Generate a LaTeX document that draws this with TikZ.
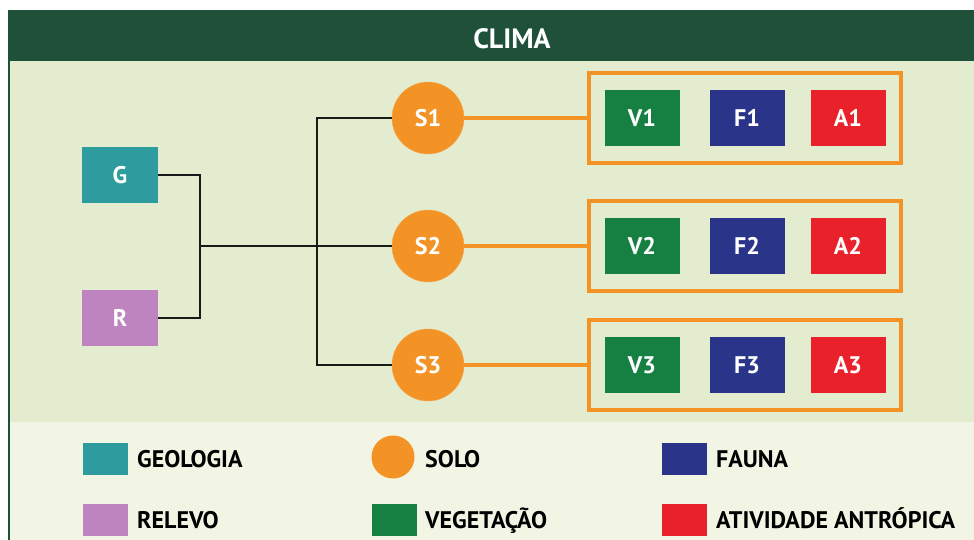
\documentclass[tikz,border=0pt]{standalone}
\usepackage{fontspec}
\setmainfont{PT Sans}
\usetikzlibrary{fit}
\definecolor{headgreen}{RGB}{30,80,58}
\definecolor{bodygreen}{RGB}{228,236,208}
\definecolor{legendbg}{RGB}{242,245,227}
\definecolor{geoteal}{RGB}{46,156,158}
\definecolor{relpurple}{RGB}{190,132,192}
\definecolor{soloorange}{RGB}{244,147,37}
\definecolor{vegreen}{RGB}{22,128,66}
\definecolor{faunablue}{RGB}{42,53,137}
\definecolor{antred}{RGB}{233,33,43}
\begin{document}
\begin{tikzpicture}[x=1pt,y=-1pt,
    font=\fontsize{24}{26}\selectfont,
    cell/.style={rectangle,minimum width=75pt,minimum height=56pt,inner sep=0pt,text=white,font=\fontsize{24}{26}\selectfont\bfseries},
    solo/.style={circle,fill=soloorange,draw=soloorange!80!white,minimum size=72pt,inner sep=0pt,text=white,font=\fontsize{24}{26}\selectfont\bfseries},
    group/.style={draw=soloorange,line width=4pt,inner xsep=15pt,inner ysep=17pt},
    link/.style={line width=1.8pt,black!90},
    olink/.style={line width=4pt,soloorange},
    swatch/.style={rectangle,minimum width=45pt,minimum height=32pt,inner sep=0pt},
    legtext/.style={anchor=base west,inner sep=0pt,font=\fontsize{24}{26}\selectfont\bfseries}]
    \useasboundingbox (0,0) rectangle (974,540);
    \fill[white] (0,0) rectangle (974,540);
    \fill[bodygreen] (9,61) rectangle (980,422);
    \fill[legendbg] (9,422) rectangle (980,545);
    \draw[headgreen,line width=1.5pt] (9,545) -- (9,11) -- (980,11);
    \fill[headgreen] (8,11) rectangle (980,61);
    \node[text=white,font=\fontsize{28}{30}\selectfont\bfseries] (clima) at (512,39) {CLIMA};

    \node[cell,fill=geoteal,minimum width=76pt] (G) at (120,175) {G};
    \node[cell,fill=relpurple,minimum width=76pt] (R) at (120,318) {R};
    \coordinate (hub) at (200,246);
    \coordinate (trunk) at (317,246);

    \foreach \i/\y in {1/118,2/246,3/365}{
        \node[solo] (S\i) at (428,\y) {S\i};
        \node[cell,fill=vegreen] (V\i) at (642,\y) {V\i};
        \node[cell,fill=faunablue] (F\i) at (747,\y) {F\i};
        \node[cell,fill=antred] (A\i) at (848,\y) {A\i};
        \node[group,fit=(V\i)(A\i)] (grp\i) {};
        \draw[olink] (S\i.east) -- (grp\i.west);
    }

    \draw[link] (G.east) -| (hub) |- (R.east);
    \draw[link] (hub) -- (S2.west);
    \draw[link] (S1.west) -| (trunk) |- (S3.west);

    \node[swatch,fill=geoteal] (lgeo) at (105,459) {};
    \node[legtext] at (137,467) {GEOLOGIA};
    \node[swatch,fill=relpurple] (lrel) at (105,520) {};
    \node[legtext] at (137,528) {RELEVO};
    \node[circle,fill=soloorange,minimum size=43pt,inner sep=0pt] (lsolo) at (393,457) {};
    \node[legtext] at (425,467) {SOLO};
    \node[swatch,fill=vegreen] (lveg) at (394,520) {};
    \node[legtext] at (425,528) {VEGETAÇÃO};
    \node[swatch,fill=faunablue] (lfau) at (684,459) {};
    \node[legtext] at (716,467) {FAUNA};
    \node[swatch,fill=antred] (lant) at (684,520) {};
    \node[legtext] at (716,528) {ATIVIDADE ANTRÓPICA};
\end{tikzpicture}
\end{document}
